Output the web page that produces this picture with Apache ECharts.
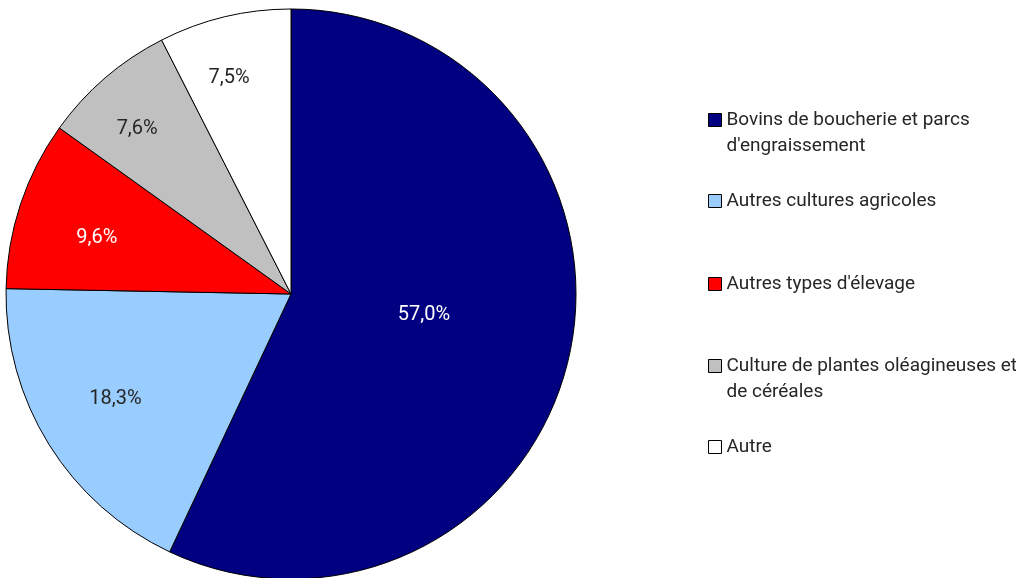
<!DOCTYPE html>
<html>
<head>
<meta charset="utf-8">
<script src="https://cdn.jsdelivr.net/npm/echarts@6/dist/echarts.min.js"></script>
<style>
  html, body { margin: 0; padding: 0; background: #fff; }
  #main { width: 1016px; height: 578px; }
</style>
</head>
<body>
<div id="main"></div>
<script>
// categories and shares (%)
const categories = [
  'Bovins de boucherie et parcs d\'engraissement',
  'Autres cultures agricoles',
  'Autres types d\'élevage',
  'Culture de plantes oléagineuses et de céréales',
  'Autre'
]
const shares = [57.0, 18.3, 9.6, 7.6, 7.5]

const colors = ['#000080', '#99CCFF', '#FF0000', '#C0C0C0', '#FFFFFF']
const labelColors = ['#fff', '#262626', '#fff', '#262626', '#262626']
// nudge inside labels to where the original (best fit) put them
const labelShift = [[-9, -11], [-52, 28], [-56, -10], [-59, -55], [-28, -75]]
// legend rows; long names wrap after this word (leading blank line keeps the box on line one)
const legendTops = [81, 188, 271, 327, 434]
const wrapAfter = ['parcs', null, null, 'et', null]
const FONT = 'Roboto, "Noto Sans", sans-serif'

const chart = echarts.init(document.getElementById('main'))

const legends = categories.map((name, i) => ({
  orient: 'vertical',
  left: 708,
  top: legendTops[i],
  padding: 0,
  itemWidth: 13,
  itemHeight: 13,
  itemGap: 0,
  selectedMode: false,
  icon: 'rect',
  itemStyle: { borderColor: '#000', borderWidth: 1 },
  formatter: n => wrapAfter[i] ? '\n' + n.replace(wrapAfter[i] + ' ', wrapAfter[i] + '\n') : n,
  textStyle: {
    fontFamily: FONT,
    fontSize: 19,
    color: '#262626',
    lineHeight: 26
  },
  data: [name]
}))

chart.setOption({
  animation: false,
  legend: legends,
  series: [
    {
      type: 'pie',
      center: [291, 294],
      radius: 285,
      startAngle: 90,
      clockwise: true,
      silent: true,
      itemStyle: { borderColor: '#000', borderWidth: 1 },
      label: {
        show: true,
        position: 'inside',
        fontFamily: FONT,
        fontSize: 20,
        formatter: p => p.value.toFixed(1).replace('.', ',') + '%'
      },
      labelLine: { show: false },
      labelLayout: p => ({ dx: labelShift[p.dataIndex][0], dy: labelShift[p.dataIndex][1] }),
      data: categories.map((name, i) => ({
        name,
        value: shares[i],
        itemStyle: { color: colors[i] },
        label: { color: labelColors[i] }
      }))
    }
  ]
})
</script>
</body>
</html>
